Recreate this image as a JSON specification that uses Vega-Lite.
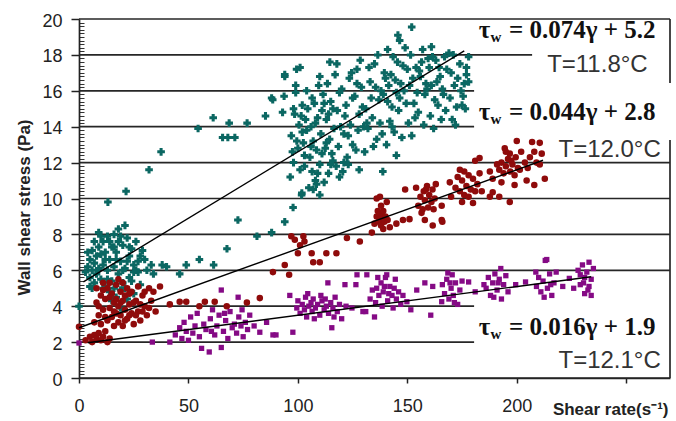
{
"$schema": "https://vega.github.io/schema/vega-lite/v6.json",
"width": 591, "height": 359,
"autosize": "none",
"padding": {"left": 79, "top": 19, "right": 6, "bottom": 43},
"background": "white",
"config": {"view": {"stroke": null}, "font": "Liberation Sans"},
"resolve": {"axis": {"y": "independent", "x": "independent"}},
"layer": [
{
"data": {"values": [
{"g":0,"x1":0,"x2":270},{"g":2,"x1":0,"x2":180.5},{"g":4,"x1":0,"x2":180.5},{"g":6,"x1":0,"x2":270},{"g":8,"x1":0,"x2":270},{"g":10,"x1":0,"x2":270},{"g":12,"x1":0,"x2":270},{"g":14,"x1":0,"x2":180.5},{"g":16,"x1":0,"x2":180.5},{"g":18,"x1":0,"x2":207},{"g":20,"x1":0,"x2":270}
]},
"mark": {"type": "rule", "color": "#262626", "strokeWidth": 1.7},
"encoding": {
"y": {"field": "g", "type": "quantitative", "scale": {"domain": [0, 20], "nice": false},
 "axis": {"orient": "left", "values": [0.2,0.4,0.6,0.8,1,1.2,1.4,1.6,1.8,2.2,2.4,2.6,2.8,3,3.2,3.4,3.6,3.8,4.2,4.4,4.6,4.8,5,5.2,5.4,5.6,5.8,6.2,6.4,6.6,6.8,7,7.2,7.4,7.6,7.8,8.2,8.4,8.6,8.8,9,9.2,9.4,9.6,9.8,10.2,10.4,10.6,10.8,11,11.2,11.4,11.6,11.8,12.2,12.4,12.6,12.8,13,13.2,13.4,13.6,13.8,14.2,14.4,14.6,14.8,15,15.2,15.4,15.6,15.8,16.2,16.4,16.6,16.8,17,17.2,17.4,17.6,17.8,18.2,18.4,18.6,18.8,19,19.2,19.4,19.6,19.8],
  "labels": false, "domain": false, "grid": false, "ticks": true, "tickSize": 5, "offset": -5, "tickColor": "#333", "tickWidth": 1, "title": null}},
"x": {"field": "x1", "type": "quantitative", "scale": {"domain": [0, 270], "nice": false, "zero": false}, "axis": null},
"x2": {"field": "x2"}
}
},
{
"data": {"values": [{"bx":270,"y1":0,"y2":13.26},{"bx":270,"y1":16.43,"y2":20}]},
"mark": {"type": "rule", "color": "#262626", "strokeWidth": 1.7},
"encoding": {
"x": {"field": "bx", "type": "quantitative", "axis": null},
"y": {"field": "y1", "type": "quantitative", "axis": null},
"y2": {"field": "y2"}
}
},
{
"data": {"values": [
{"s":"A","x":0,"y":4.0},
{"s":"A","x":3,"y":5.9},{"s":"A","x":4,"y":6.2},{"s":"A","x":5,"y":5.6},{"s":"A","x":5,"y":6.6},{"s":"A","x":6,"y":6.0},{"s":"A","x":6,"y":7.1},{"s":"A","x":7,"y":5.3},{"s":"A","x":7,"y":6.4},{"s":"A","x":8,"y":6.8},{"s":"A","x":8,"y":5.8},{"s":"A","x":9,"y":7.3},{"s":"A","x":9,"y":6.1},{"s":"A","x":10,"y":5.5},{"s":"A","x":10,"y":6.9},{"s":"A","x":11,"y":7.6},{"s":"A","x":11,"y":6.3},{"s":"A","x":12,"y":5.1},{"s":"A","x":12,"y":7.0},{"s":"A","x":13,"y":7.9},{"s":"A","x":13,"y":6.0},{"s":"A","x":14,"y":6.6},{"s":"A","x":14,"y":4.8},{"s":"A","x":15,"y":7.3},{"s":"A","x":15,"y":5.4},{"s":"A","x":16,"y":8.0},{"s":"A","x":16,"y":6.2},{"s":"A","x":17,"y":4.5},{"s":"A","x":17,"y":7.0},{"s":"A","x":18,"y":5.8},{"s":"A","x":18,"y":8.3},{"s":"A","x":19,"y":6.5},{"s":"A","x":19,"y":4.9},{"s":"A","x":20,"y":7.4},{"s":"A","x":20,"y":5.3},{"s":"A","x":21,"y":8.5},{"s":"A","x":21,"y":6.1},{"s":"A","x":22,"y":4.4},{"s":"A","x":22,"y":7.8},{"s":"A","x":23,"y":6.8},{"s":"A","x":23,"y":5.6},{"s":"A","x":24,"y":7.2},{"s":"A","x":25,"y":6.3},{"s":"A","x":25,"y":4.7},{"s":"A","x":26,"y":7.6},{"s":"A","x":27,"y":5.9},{"s":"A","x":28,"y":6.8},{"s":"A","x":28,"y":5.2},{"s":"A","x":30,"y":6.6},{"s":"A","x":31,"y":6.0},{"s":"A","x":33,"y":6.3},{"s":"A","x":34,"y":5.8},
{"s":"A","x":4,"y":7.0},{"s":"A","x":6,"y":5.0},{"s":"A","x":9,"y":8.1},{"s":"A","x":12,"y":6.6},{"s":"A","x":14,"y":7.6},{"s":"A","x":16,"y":5.0},{"s":"A","x":18,"y":7.6},{"s":"A","x":20,"y":6.0},{"s":"A","x":22,"y":6.5},{"s":"A","x":24,"y":5.4},{"s":"A","x":26,"y":6.0},{"s":"A","x":29,"y":7.1},{"s":"A","x":19,"y":3.9},{"s":"A","x":15,"y":4.3},
{"s":"A","x":5,"y":5.1},{"s":"A","x":7,"y":7.6},{"s":"A","x":10,"y":7.9},{"s":"A","x":13,"y":5.5},{"s":"A","x":17,"y":6.6},{"s":"A","x":19,"y":7.9},{"s":"A","x":21,"y":5.0},{"s":"A","x":23,"y":7.3},{"s":"A","x":25,"y":5.9},{"s":"A","x":27,"y":6.5},{"s":"A","x":11,"y":5.0},{"s":"A","x":16,"y":7.3},
{"s":"A","x":13.2,"y":9.8},{"s":"A","x":21.5,"y":10.4},{"s":"A","x":32,"y":11.6},{"s":"A","x":37.5,"y":12.6},{"s":"A","x":38,"y":6.3},{"s":"A","x":40,"y":6.2},{"s":"A","x":46,"y":5.8},{"s":"A","x":49,"y":6.3},{"s":"A","x":55,"y":6.6},{"s":"A","x":61.5,"y":6.3},{"s":"A","x":67.6,"y":7.2},{"s":"A","x":72.6,"y":8.8},{"s":"A","x":81.3,"y":7.9},{"s":"A","x":88,"y":8.1},{"s":"A","x":94,"y":8.7},
{"s":"A","x":54.4,"y":13.9},{"s":"A","x":61.3,"y":14.5},{"s":"A","x":65.6,"y":13.4},{"s":"A","x":68,"y":13.4},{"s":"A","x":71.2,"y":13.4},{"s":"A","x":68.6,"y":14.2},{"s":"A","x":76.8,"y":14.2},{"s":"A","x":85.2,"y":14.6},{"s":"A","x":88.5,"y":15.5},{"s":"A","x":93.7,"y":15.7},{"s":"A","x":94,"y":16.8},{"s":"A","x":99.4,"y":17.2},{"s":"A","x":99,"y":16.3},{"s":"A","x":97.8,"y":9.5},{"s":"A","x":101.7,"y":10.2},{"s":"A","x":88,"y":15.6},{"s":"A","x":93,"y":14.8},
{"s":"A","x":96.5,"y":11.2},{"s":"A","x":97,"y":13.5},{"s":"A","x":98,"y":12.0},{"s":"A","x":98.5,"y":14.7},{"s":"A","x":99,"y":15.9},{"s":"A","x":100,"y":12.8},{"s":"A","x":100.5,"y":14.1},{"s":"A","x":101,"y":11.6},{"s":"A","x":102,"y":15.2},{"s":"A","x":102.5,"y":13.1},{"s":"A","x":103,"y":12.4},{"s":"A","x":103.5,"y":14.4},{"s":"A","x":104,"y":13.8},{"s":"A","x":104.5,"y":15.0},
{"s":"A","x":105,"y":10.6},{"s":"A","x":105.5,"y":12.3},{"s":"A","x":106,"y":14.0},{"s":"A","x":106.5,"y":11.5},{"s":"A","x":107,"y":13.2},{"s":"A","x":107.5,"y":15.3},{"s":"A","x":108,"y":11.0},{"s":"A","x":108.5,"y":12.7},{"s":"A","x":109,"y":14.5},{"s":"A","x":109.5,"y":16.3},{"s":"A","x":110,"y":11.9},{"s":"A","x":110.5,"y":13.6},{"s":"A","x":111,"y":14.9},{"s":"A","x":111.5,"y":15.8},
{"s":"A","x":112,"y":10.9},{"s":"A","x":112.5,"y":12.8},{"s":"A","x":113,"y":14.4},{"s":"A","x":113.5,"y":16.4},{"s":"A","x":114,"y":11.4},{"s":"A","x":114.5,"y":13.3},{"s":"A","x":115,"y":15.4},{"s":"A","x":116,"y":12.1},{"s":"A","x":116.5,"y":13.9},{"s":"A","x":117,"y":16.9},{"s":"A","x":118,"y":14.9},{"s":"A","x":119,"y":15.9},
{"s":"A","x":120.5,"y":11.5},{"s":"A","x":121,"y":13.6},{"s":"A","x":122,"y":15.2},{"s":"A","x":122.5,"y":12.3},{"s":"A","x":123.5,"y":16.7},{"s":"A","x":124,"y":14.1},{"s":"A","x":125,"y":13.0},{"s":"A","x":126,"y":15.7},{"s":"A","x":127,"y":17.2},{"s":"A","x":128,"y":14.7},{"s":"A","x":129,"y":16.2},
{"s":"A","x":130.5,"y":12.6},{"s":"A","x":131,"y":15.0},{"s":"A","x":132,"y":13.9},{"s":"A","x":133,"y":16.5},{"s":"A","x":134,"y":14.5},{"s":"A","x":135,"y":17.5},{"s":"A","x":136,"y":13.3},{"s":"A","x":137,"y":15.5},{"s":"A","x":138,"y":16.0},{"s":"A","x":139.5,"y":17.0},
{"s":"A","x":140.5,"y":13.0},{"s":"A","x":141,"y":15.4},{"s":"A","x":142,"y":14.3},{"s":"A","x":142.5,"y":16.9},{"s":"A","x":143.5,"y":17.9},{"s":"A","x":144,"y":13.7},{"s":"A","x":145,"y":15.9},{"s":"A","x":146,"y":14.9},{"s":"A","x":147,"y":16.4},{"s":"A","x":148,"y":17.4},{"s":"A","x":149,"y":18.4},
{"s":"A","x":150.5,"y":14.2},{"s":"A","x":151,"y":16.3},{"s":"A","x":152,"y":13.5},{"s":"A","x":153,"y":15.3},{"s":"A","x":154,"y":17.3},{"s":"A","x":155,"y":14.8},{"s":"A","x":156,"y":16.8},{"s":"A","x":157,"y":18.3},{"s":"A","x":158,"y":15.8},{"s":"A","x":159.5,"y":17.8},
{"s":"A","x":160.5,"y":14.6},{"s":"A","x":161,"y":16.3},{"s":"A","x":162,"y":13.9},{"s":"A","x":163,"y":17.7},{"s":"A","x":164,"y":15.2},{"s":"A","x":165,"y":16.8},{"s":"A","x":166.5,"y":15.8},{"s":"A","x":168,"y":17.2},{"s":"A","x":169,"y":18.1},
{"s":"A","x":170.5,"y":14.4},{"s":"A","x":171.5,"y":16.3},{"s":"A","x":172.5,"y":15.1},{"s":"A","x":174,"y":17.5},{"s":"A","x":175.5,"y":15.7},{"s":"A","x":177,"y":16.9},
{"s":"A","x":152,"y":19.55},{"s":"A","x":145.7,"y":19.1},{"s":"A","x":146.5,"y":18.8},{"s":"A","x":161,"y":18.45},{"s":"A","x":101,"y":17.3},{"s":"A","x":94,"y":16.9},{"s":"A","x":114.6,"y":17.6},{"s":"A","x":117.8,"y":17.5},{"s":"A","x":128,"y":11.6},{"s":"A","x":138.8,"y":11.5},{"s":"A","x":101.8,"y":10.3},{"s":"A","x":145,"y":12.4},{"s":"A","x":175,"y":15.2},{"s":"A","x":177,"y":17.3},{"s":"A","x":107,"y":10.5},{"s":"A","x":110,"y":10.2},
{"s":"A","x":97.5,"y":12.6},{"s":"A","x":99.5,"y":13.2},{"s":"A","x":101.5,"y":14.6},{"s":"A","x":103,"y":11.8},{"s":"A","x":106,"y":12.9},{"s":"A","x":108,"y":14.2},{"s":"A","x":109,"y":11.4},{"s":"A","x":111,"y":12.5},{"s":"A","x":113,"y":13.1},{"s":"A","x":115,"y":11.9},{"s":"A","x":116,"y":15.0},{"s":"A","x":118.5,"y":12.9},{"s":"A","x":119.5,"y":14.0},{"s":"A","x":121.5,"y":14.6},{"s":"A","x":123,"y":13.5},{"s":"A","x":125,"y":15.6},{"s":"A","x":127.5,"y":13.8},{"s":"A","x":129.5,"y":15.1},{"s":"A","x":131.5,"y":14.2},{"s":"A","x":133.5,"y":15.6},{"s":"A","x":135.5,"y":16.2},{"s":"A","x":137.5,"y":14.2},{"s":"A","x":139,"y":15.8},{"s":"A","x":141.5,"y":16.3},{"s":"A","x":143,"y":15.1},{"s":"A","x":144.5,"y":16.6},{"s":"A","x":146.5,"y":15.6},{"s":"A","x":148.5,"y":16.0},{"s":"A","x":150,"y":17.2},{"s":"A","x":152.5,"y":16.7},{"s":"A","x":154.5,"y":15.9},{"s":"A","x":156.5,"y":17.6},{"s":"A","x":158.5,"y":16.4},{"s":"A","x":160,"y":17.3},{"s":"A","x":162.5,"y":15.5},{"s":"A","x":164.5,"y":17.3},{"s":"A","x":166,"y":16.1},{"s":"A","x":167.5,"y":14.9},{"s":"A","x":170,"y":17.0},{"s":"A","x":173,"y":16.7},{"s":"A","x":176,"y":16.4},{"s":"A","x":178,"y":17.9},
{"s":"A","x":104,"y":16.0},{"s":"A","x":106.5,"y":15.6},{"s":"A","x":108.5,"y":10.8},{"s":"A","x":110,"y":16.8},{"s":"A","x":112,"y":15.3},{"s":"A","x":114,"y":14.7},{"s":"A","x":117.5,"y":11.8},{"s":"A","x":120,"y":16.1},{"s":"A","x":121,"y":12.0},{"s":"A","x":124.5,"y":17.0},{"s":"A","x":126.5,"y":12.7},{"s":"A","x":128.5,"y":17.7},{"s":"A","x":130,"y":14.0},{"s":"A","x":132.5,"y":17.3},{"s":"A","x":134.5,"y":12.9},{"s":"A","x":136.5,"y":18.0},{"s":"A","x":138.5,"y":13.6},{"s":"A","x":140,"y":16.7},{"s":"A","x":141,"y":18.3},{"s":"A","x":143,"y":14.0},{"s":"A","x":145.5,"y":17.6},{"s":"A","x":147.5,"y":13.4},{"s":"A","x":149.5,"y":15.3},{"s":"A","x":151.5,"y":18.0},{"s":"A","x":153.5,"y":14.5},{"s":"A","x":155.5,"y":17.1},{"s":"A","x":157.5,"y":14.1},{"s":"A","x":159,"y":16.1},{"s":"A","x":161.5,"y":17.9},{"s":"A","x":163.5,"y":16.5},{"s":"A","x":165.5,"y":14.4},{"s":"A","x":167,"y":17.9},{"s":"A","x":169.5,"y":15.6},{"s":"A","x":171,"y":18.0},{"s":"A","x":172,"y":14.1},{"s":"A","x":174.5,"y":16.0},{"s":"A","x":176.5,"y":15.0},{"s":"A","x":178,"y":16.5},{"s":"A","x":127,"y":16.4},{"s":"A","x":123,"y":11.9},{"s":"A","x":119,"y":11.2},{"s":"A","x":115.5,"y":12.5},{"s":"A","x":102,"y":13.7},{"s":"A","x":98,"y":15.0},
{"s":"B","x":0,"y":2.85},
{"s":"B","x":3,"y":2.1},{"s":"B","x":5,"y":2.3},{"s":"B","x":6,"y":2.0},{"s":"B","x":7,"y":2.4},{"s":"B","x":8,"y":2.2},{"s":"B","x":9,"y":2.5},{"s":"B","x":10,"y":2.1},{"s":"B","x":11,"y":2.3},{"s":"B","x":12,"y":2.6},{"s":"B","x":13,"y":2.0},{"s":"B","x":14,"y":2.2},
{"s":"B","x":7,"y":3.1},{"s":"B","x":8,"y":4.2},{"s":"B","x":8,"y":5.0},{"s":"B","x":9,"y":3.5},{"s":"B","x":10,"y":4.6},{"s":"B","x":10,"y":3.0},{"s":"B","x":11,"y":5.3},{"s":"B","x":11,"y":3.8},{"s":"B","x":12,"y":4.4},{"s":"B","x":13,"y":3.2},{"s":"B","x":13,"y":5.0},{"s":"B","x":14,"y":3.9},{"s":"B","x":15,"y":4.7},{"s":"B","x":15,"y":3.4},{"s":"B","x":16,"y":2.9},{"s":"B","x":16,"y":4.2},{"s":"B","x":17,"y":3.6},{"s":"B","x":17,"y":5.2},{"s":"B","x":18,"y":3.1},{"s":"B","x":18,"y":4.0},{"s":"B","x":19,"y":4.8},{"s":"B","x":19,"y":3.5},{"s":"B","x":20,"y":2.9},{"s":"B","x":20,"y":4.3},{"s":"B","x":21,"y":3.8},{"s":"B","x":22,"y":5.0},{"s":"B","x":22,"y":3.3},{"s":"B","x":23,"y":4.1},{"s":"B","x":24,"y":3.6},{"s":"B","x":24,"y":4.8},{"s":"B","x":25,"y":3.0},{"s":"B","x":26,"y":4.3},{"s":"B","x":27,"y":3.7},{"s":"B","x":27,"y":5.1},{"s":"B","x":28,"y":3.2},{"s":"B","x":29,"y":4.6},{"s":"B","x":30,"y":4.0},{"s":"B","x":31,"y":3.5},{"s":"B","x":32,"y":5.0},{"s":"B","x":33,"y":4.3},{"s":"B","x":34,"y":4.8},{"s":"B","x":35,"y":3.7},{"s":"B","x":37,"y":5.1},
{"s":"B","x":9,"y":4.0},{"s":"B","x":11,"y":4.9},{"s":"B","x":12,"y":3.4},{"s":"B","x":14,"y":4.5},{"s":"B","x":16,"y":3.7},{"s":"B","x":17,"y":4.4},{"s":"B","x":19,"y":4.2},{"s":"B","x":21,"y":4.6},{"s":"B","x":21,"y":3.2},{"s":"B","x":23,"y":3.5},{"s":"B","x":23,"y":4.7},{"s":"B","x":25,"y":4.2},{"s":"B","x":26,"y":3.5},{"s":"B","x":28,"y":4.1},{"s":"B","x":29,"y":3.7},{"s":"B","x":30,"y":4.8},{"s":"B","x":32,"y":3.9},{"s":"B","x":20,"y":5.3},{"s":"B","x":14,"y":5.3},{"s":"B","x":18,"y":5.5},
{"s":"B","x":41.5,"y":4.1},{"s":"B","x":46,"y":4.25},{"s":"B","x":49,"y":4.25},{"s":"B","x":55,"y":4.0},{"s":"B","x":57.5,"y":4.25},{"s":"B","x":62,"y":4.25},{"s":"B","x":67.5,"y":4.0},{"s":"B","x":76.7,"y":4.2},{"s":"B","x":82.6,"y":4.45},{"s":"B","x":88.6,"y":5.9},{"s":"B","x":94,"y":6.3},{"s":"B","x":96,"y":5.75},{"s":"B","x":97,"y":7.9},{"s":"B","x":98.6,"y":7.7},{"s":"B","x":101,"y":7.4},{"s":"B","x":102.5,"y":7.9},{"s":"B","x":100,"y":6.95},{"s":"B","x":103,"y":7.6},{"s":"B","x":106.3,"y":6.95},{"s":"B","x":107,"y":6.45},{"s":"B","x":110,"y":6.45},{"s":"B","x":113,"y":6.95},{"s":"B","x":117.6,"y":6.95},{"s":"B","x":122.4,"y":7.8},{"s":"B","x":128.3,"y":7.6},{"s":"B","x":133.8,"y":8.1},
{"s":"B","x":135,"y":8.6},{"s":"B","x":136,"y":9.0},{"s":"B","x":136.5,"y":9.3},{"s":"B","x":137,"y":8.7},{"s":"B","x":137.5,"y":9.1},{"s":"B","x":138,"y":8.5},{"s":"B","x":138.5,"y":8.9},{"s":"B","x":139,"y":9.3},{"s":"B","x":139.5,"y":8.7},{"s":"B","x":140,"y":9.0},{"s":"B","x":141,"y":8.8},{"s":"B","x":136,"y":10.0},{"s":"B","x":137.5,"y":10.1},{"s":"B","x":140.6,"y":9.8},{"s":"B","x":142,"y":8.4},{"s":"B","x":145,"y":8.6},{"s":"B","x":148,"y":8.8},{"s":"B","x":149,"y":10.5},{"s":"B","x":151,"y":8.85},{"s":"B","x":154,"y":10.6},{"s":"B","x":138,"y":9.6},{"s":"B","x":139,"y":8.3},
{"s":"B","x":155,"y":9.6},{"s":"B","x":156,"y":10.1},{"s":"B","x":157,"y":9.4},{"s":"B","x":157.5,"y":10.4},{"s":"B","x":158,"y":9.9},{"s":"B","x":159,"y":10.7},{"s":"B","x":159.5,"y":9.5},{"s":"B","x":160,"y":10.2},{"s":"B","x":161,"y":9.8},{"s":"B","x":161.5,"y":10.5},{"s":"B","x":162,"y":9.4},{"s":"B","x":162.5,"y":10.0},{"s":"B","x":163,"y":10.8},{"s":"B","x":158,"y":8.8},{"s":"B","x":161.6,"y":8.5},{"s":"B","x":165.7,"y":8.8},{"s":"B","x":165.7,"y":9.6},{"s":"B","x":166,"y":8.7},{"s":"B","x":169.4,"y":10.9},{"s":"B","x":170,"y":10.1},{"s":"B","x":158.5,"y":10.5},{"s":"B","x":156.5,"y":9.2},
{"s":"B","x":172,"y":10.6},{"s":"B","x":173,"y":11.2},{"s":"B","x":174,"y":10.4},{"s":"B","x":175,"y":11.0},{"s":"B","x":175,"y":9.8},{"s":"B","x":176,"y":11.5},{"s":"B","x":177,"y":10.7},{"s":"B","x":178,"y":11.3},{"s":"B","x":179,"y":10.5},{"s":"B","x":180,"y":11.1},{"s":"B","x":180,"y":9.75},{"s":"B","x":181,"y":12.1},{"s":"B","x":182,"y":10.8},{"s":"B","x":183,"y":12.25},{"s":"B","x":183,"y":11.4},{"s":"B","x":184,"y":10.4},{"s":"B","x":176,"y":10.2},{"s":"B","x":178,"y":10.1},{"s":"B","x":181,"y":10.4},{"s":"B","x":174,"y":11.6},
{"s":"B","x":187.7,"y":11.5},{"s":"B","x":187.7,"y":10.1},{"s":"B","x":189,"y":10.35},{"s":"B","x":192,"y":10.1},{"s":"B","x":192,"y":11.6},{"s":"B","x":193,"y":12.0},{"s":"B","x":194,"y":11.4},{"s":"B","x":194.5,"y":12.8},{"s":"B","x":195,"y":11.8},{"s":"B","x":196,"y":12.2},{"s":"B","x":196.8,"y":12.5},{"s":"B","x":196.8,"y":9.8},{"s":"B","x":197,"y":11.5},{"s":"B","x":198,"y":11.9},{"s":"B","x":199,"y":10.75},{"s":"B","x":199.5,"y":12.3},{"s":"B","x":200,"y":13.2},{"s":"B","x":200.5,"y":11.7},{"s":"B","x":201.4,"y":11.6},{"s":"B","x":203.7,"y":12.0},{"s":"B","x":204.5,"y":11.0},{"s":"B","x":206,"y":12.3},{"s":"B","x":207,"y":13.15},{"s":"B","x":208,"y":12.6},{"s":"B","x":208,"y":10.75},{"s":"B","x":210.5,"y":13.1},{"s":"B","x":210.5,"y":11.9},{"s":"B","x":211.4,"y":12.5},{"s":"B","x":212.8,"y":11.1},{"s":"B","x":209,"y":12.0},
{"s":"B","x":189,"y":11.1},{"s":"B","x":191,"y":11.9},{"s":"B","x":193,"y":10.9},{"s":"B","x":195,"y":12.6},{"s":"B","x":197.5,"y":12.1},{"s":"B","x":199,"y":11.3},{"s":"B","x":202,"y":12.6},{"s":"B","x":205,"y":11.7},
{"s":"C","x":0,"y":1.95},{"s":"C","x":33.5,"y":2.0},{"s":"C","x":41.5,"y":2.0},{"s":"C","x":44,"y":2.4},{"s":"C","x":46,"y":2.8},{"s":"C","x":47,"y":2.2},{"s":"C","x":48,"y":3.1},{"s":"C","x":49,"y":2.6},{"s":"C","x":50,"y":2.1},{"s":"C","x":51,"y":3.4},{"s":"C","x":52,"y":2.5},{"s":"C","x":53,"y":2.9},{"s":"C","x":54,"y":3.6},{"s":"C","x":55,"y":2.3},{"s":"C","x":56,"y":1.65},{"s":"C","x":57,"y":3.0},{"s":"C","x":58,"y":2.7},{"s":"C","x":59.5,"y":1.45},{"s":"C","x":60,"y":3.3},{"s":"C","x":61,"y":3.8},{"s":"C","x":62,"y":2.4},{"s":"C","x":63,"y":2.9},{"s":"C","x":64,"y":3.5},{"s":"C","x":65,"y":4.9},{"s":"C","x":65,"y":1.7},{"s":"C","x":66,"y":2.6},{"s":"C","x":67,"y":3.2},{"s":"C","x":68,"y":2.2},{"s":"C","x":69,"y":3.7},{"s":"C","x":70,"y":2.8},{"s":"C","x":71,"y":3.0},{"s":"C","x":72,"y":2.5},{"s":"C","x":72.7,"y":4.5},{"s":"C","x":73,"y":3.4},{"s":"C","x":74,"y":2.9},{"s":"C","x":75,"y":2.3},{"s":"C","x":76,"y":3.1},{"s":"C","x":77,"y":2.7},{"s":"C","x":78,"y":3.5},{"s":"C","x":80,"y":2.9},{"s":"C","x":82.6,"y":2.55},{"s":"C","x":85.7,"y":3.1},{"s":"C","x":88.6,"y":2.4},{"s":"C","x":90,"y":2.4},{"s":"C","x":96.3,"y":4.6},{"s":"C","x":97.7,"y":2.55},{"s":"C","x":60.5,"y":2.6},{"s":"C","x":66.5,"y":3.6},{"s":"C","x":74.5,"y":3.8},
{"s":"C","x":99.5,"y":3.9},{"s":"C","x":100,"y":4.3},{"s":"C","x":101,"y":3.6},{"s":"C","x":102,"y":4.1},{"s":"C","x":103,"y":3.8},{"s":"C","x":103.5,"y":4.5},{"s":"C","x":104,"y":3.4},{"s":"C","x":105,"y":4.0},{"s":"C","x":106,"y":4.2},{"s":"C","x":106.5,"y":3.7},{"s":"C","x":107,"y":4.4},{"s":"C","x":108,"y":3.9},{"s":"C","x":109,"y":4.1},{"s":"C","x":110,"y":3.5},{"s":"C","x":111,"y":4.3},{"s":"C","x":112,"y":3.8},{"s":"C","x":113,"y":4.0},{"s":"C","x":113.7,"y":5.3},{"s":"C","x":114,"y":3.6},{"s":"C","x":115,"y":4.2},{"s":"C","x":115.5,"y":2.8},{"s":"C","x":116,"y":3.9},{"s":"C","x":117,"y":4.5},{"s":"C","x":118,"y":3.7},{"s":"C","x":119,"y":4.1},{"s":"C","x":120,"y":3.3},{"s":"C","x":121.5,"y":5.2},{"s":"C","x":122,"y":4.0},{"s":"C","x":124.7,"y":3.9},{"s":"C","x":126.5,"y":5.2},{"s":"C","x":127,"y":5.75},{"s":"C","x":129.7,"y":3.7},{"s":"C","x":131,"y":3.7},{"s":"C","x":131.5,"y":5.75},{"s":"C","x":135,"y":3.4},
{"s":"C","x":104.5,"y":4.7},{"s":"C","x":107.5,"y":3.3},{"s":"C","x":110.5,"y":4.6},{"s":"C","x":112.5,"y":4.4},{"s":"C","x":116.5,"y":3.4},
{"s":"C","x":133,"y":4.4},{"s":"C","x":134,"y":4.9},{"s":"C","x":135.5,"y":4.2},{"s":"C","x":136,"y":5.0},{"s":"C","x":137,"y":4.6},{"s":"C","x":138,"y":5.3},{"s":"C","x":138.5,"y":4.0},{"s":"C","x":139,"y":4.8},{"s":"C","x":140,"y":5.6},{"s":"C","x":140.6,"y":5.75},{"s":"C","x":141,"y":4.3},{"s":"C","x":142,"y":5.1},{"s":"C","x":143,"y":4.6},{"s":"C","x":143.5,"y":3.9},{"s":"C","x":144,"y":5.0},{"s":"C","x":145,"y":4.4},{"s":"C","x":146,"y":4.8},{"s":"C","x":147,"y":4.1},{"s":"C","x":148,"y":4.6},{"s":"C","x":149.8,"y":4.25},{"s":"C","x":151.6,"y":3.8},{"s":"C","x":154.3,"y":4.9},{"s":"C","x":158,"y":5.3},{"s":"C","x":160.7,"y":3.5},{"s":"C","x":161.6,"y":5.1},{"s":"C","x":165.7,"y":4.25},{"s":"C","x":139.5,"y":5.1},{"s":"C","x":141.5,"y":4.7},{"s":"C","x":144.5,"y":5.5},{"s":"C","x":136.5,"y":5.6},
{"s":"C","x":166,"y":5.2},{"s":"C","x":167,"y":4.7},{"s":"C","x":168,"y":5.5},{"s":"C","x":168.5,"y":5.85},{"s":"C","x":169,"y":4.4},{"s":"C","x":170,"y":5.0},{"s":"C","x":170.5,"y":5.75},{"s":"C","x":171,"y":4.6},{"s":"C","x":172,"y":5.3},{"s":"C","x":173,"y":4.1},{"s":"C","x":174,"y":4.9},{"s":"C","x":175,"y":5.4},{"s":"C","x":178,"y":5.35},{"s":"C","x":181,"y":4.8},{"s":"C","x":185,"y":5.2},{"s":"C","x":169.5,"y":5.3},{"s":"C","x":171.5,"y":4.2},
{"s":"C","x":186,"y":5.0},{"s":"C","x":187,"y":5.6},{"s":"C","x":188,"y":4.6},{"s":"C","x":189,"y":5.3},{"s":"C","x":190,"y":5.8},{"s":"C","x":191,"y":4.9},{"s":"C","x":192,"y":5.5},{"s":"C","x":192.7,"y":6.1},{"s":"C","x":193,"y":4.4},{"s":"C","x":194,"y":5.2},{"s":"C","x":195,"y":5.7},{"s":"C","x":196,"y":4.8},{"s":"C","x":199.5,"y":5.2},{"s":"C","x":204,"y":5.35},{"s":"C","x":208.7,"y":5.9},{"s":"C","x":189.5,"y":4.5},{"s":"C","x":191.5,"y":5.3},
{"s":"C","x":209,"y":5.1},{"s":"C","x":210,"y":5.6},{"s":"C","x":211,"y":4.8},{"s":"C","x":212,"y":5.4},{"s":"C","x":213,"y":6.55},{"s":"C","x":213.7,"y":6.6},{"s":"C","x":214,"y":5.0},{"s":"C","x":215,"y":5.8},{"s":"C","x":216,"y":4.6},{"s":"C","x":217,"y":5.3},{"s":"C","x":218,"y":5.9},{"s":"C","x":221,"y":5.1},{"s":"C","x":224,"y":5.55},{"s":"C","x":226,"y":5.0},{"s":"C","x":229,"y":5.75},{"s":"C","x":212.5,"y":4.5},{"s":"C","x":215.5,"y":5.2},
{"s":"C","x":228,"y":6.0},{"s":"C","x":229,"y":5.2},{"s":"C","x":230,"y":6.3},{"s":"C","x":231,"y":4.7},{"s":"C","x":231,"y":5.6},{"s":"C","x":232,"y":5.9},{"s":"C","x":233,"y":6.45},{"s":"C","x":233,"y":5.1},{"s":"C","x":234,"y":4.6},{"s":"C","x":234,"y":5.5},{"s":"C","x":235,"y":6.1},{"s":"C","x":230.5,"y":5.3},{"s":"C","x":232.5,"y":4.9}
]},
"mark": {"type": "point", "filled": true, "opacity": 1},
"encoding": {
"x": {"field": "x", "type": "quantitative", "scale": {"domain": [0, 270], "nice": false, "zero": false},
 "axis": {"orient": "bottom", "values": [0, 50, 100, 150, 200, 250], "labelExpr": "datum.value == 250 ? '' : datum.label", "labelFlush": false, "labelOverlap": false, "grid": false, "tickSize": 5, "tickColor": "#222", "tickWidth": 1.5, "domainColor": "#222", "domainWidth": 1.7, "labelPadding": 14, "labelFontSize": 18, "labelColor": "#222", "labelFont": "Liberation Sans",
  "title": "Shear rate(s⁻¹)", "titleX": 589, "titleY": 36, "titleAlign": "right", "titleBaseline": "alphabetic", "titleFontSize": 17, "titleFontWeight": "bold", "titleColor": "#222", "titleFont": "Liberation Sans"}},
"y": {"field": "y", "type": "quantitative", "scale": {"domain": [0, 20], "nice": false},
 "axis": {"orient": "left", "values": [0,2,4,6,8,10,12,14,16,18,20], "grid": false, "tickSize": 8, "tickColor": "#222", "tickWidth": 1.5, "domainColor": "#222", "domainWidth": 1.7, "labelPadding": 9, "labelOffset": 2, "labelFontSize": 18, "labelColor": "#222", "labelFont": "Liberation Sans", "labelFlush": false,
  "title": "Wall shear stress (Pa)", "titleX": -50, "titleY": 188, "titleAngle": -90, "titleAlign": "center", "titleBaseline": "alphabetic", "titleFontSize": 17, "titleFontWeight": "bold", "titleColor": "#222", "titleFont": "Liberation Sans"}},
"color": {"field": "s", "type": "nominal", "scale": {"domain": ["A", "B", "C"], "range": ["#0b6762", "#8f0b0b", "#850a85"]}, "legend": null},
"shape": {"field": "s", "type": "nominal", "scale": {"domain": ["A", "B", "C"], "range": ["cross", "circle", "square"]}, "legend": null},
"size": {"field": "s", "type": "ordinal", "scale": {"domain": ["A", "B", "C"], "range": [58, 28, 24]}, "legend": null}
}
},
{
"data": {"values": [
{"s":"A","x":2,"y":5.35},{"s":"A","x":176,"y":18.22},
{"s":"B","x":0,"y":2.8},{"s":"B","x":212,"y":12.13},
{"s":"C","x":4,"y":1.96},{"s":"C","x":234,"y":5.64}
]},
"mark": {"type": "line", "color": "black", "strokeWidth": 1.4},
"encoding": {
"x": {"field": "x", "type": "quantitative", "axis": null},
"y": {"field": "y", "type": "quantitative", "axis": null},
"detail": {"field": "s"}
}
},
{
"data": {"values": [{"t":"τ","x":182.6,"y":18.93},{"t":"τ","x":182.6,"y":14.37},{"t":"τ","x":182.6,"y":2.40}]},
"mark": {"type": "text", "font": "Liberation Serif", "fontSize": 25, "fontWeight": "bold", "align": "left", "baseline": "alphabetic", "color": "#111"},
"encoding": {
"x": {"field": "x", "type": "quantitative", "axis": null},
"y": {"field": "y", "type": "quantitative", "axis": null},
"text": {"field": "t"}
}
},
{
"data": {"values": [{"t":"w","x":188,"y":18.93},{"t":"w","x":188,"y":14.37},{"t":"w","x":188,"y":2.40}]},
"mark": {"type": "text", "font": "Liberation Serif", "fontSize": 15, "fontWeight": "bold", "align": "left", "baseline": "alphabetic", "dy": 4, "color": "#111"},
"encoding": {
"x": {"field": "x", "type": "quantitative", "axis": null},
"y": {"field": "y", "type": "quantitative", "axis": null},
"text": {"field": "t"}
}
},
{
"data": {"values": [{"t":"= 0.074γ + 5.2","x":196.5,"y":18.93},{"t":"= 0.044γ + 2.8","x":196.5,"y":14.37},{"t":"= 0.016γ + 1.9","x":196.5,"y":2.40}]},
"mark": {"type": "text", "font": "Liberation Serif", "fontSize": 25, "fontWeight": "bold", "align": "left", "baseline": "alphabetic", "color": "#111"},
"encoding": {
"x": {"field": "x", "type": "quantitative", "axis": null},
"y": {"field": "y", "type": "quantitative", "axis": null},
"text": {"field": "t"}
}
},
{
"data": {"values": [{"t":"T=11.8°C","x":259.8,"y":17.05},{"t":"T=12.0°C","x":265.8,"y":12.31},{"t":"T=12.1°C","x":265.8,"y":0.556}]},
"mark": {"type": "text", "font": "Liberation Sans", "fontSize": 24, "align": "right", "baseline": "alphabetic", "color": "#333"},
"encoding": {
"x": {"field": "x", "type": "quantitative", "axis": null},
"y": {"field": "y", "type": "quantitative", "axis": null},
"text": {"field": "t"}
}
}
]
}
